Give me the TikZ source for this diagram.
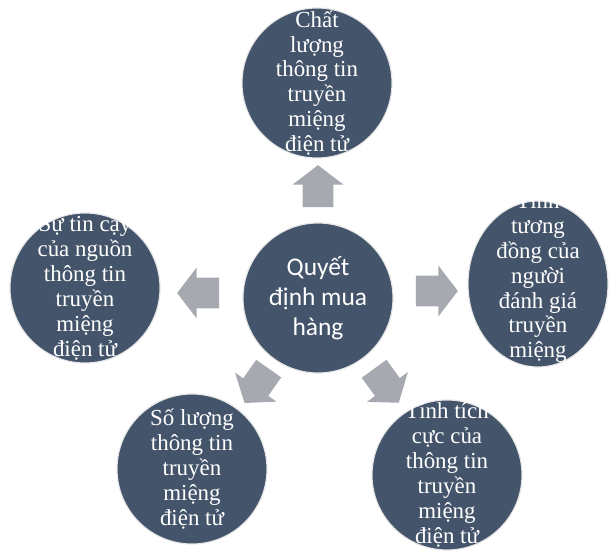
\documentclass[tikz,border=0pt]{standalone}
\usepackage{fontspec}
\setmainfont{Liberation Serif}
\newfontfamily\calibri{Carlito}
\usetikzlibrary{shapes.arrows,shapes.geometric}
\definecolor{slate}{RGB}{68,84,106}
\definecolor{arrowgray}{RGB}{166,169,175}
\tikzset{
  bubble/.style={circle, fill=slate, draw=gray!20, line width=0.8pt, minimum size=3.75cm, inner sep=0pt},
  serifcap/.style={text=white, align=center, inner sep=0pt, font=\fontsize{16.3}{17.7}\selectfont},
  sanscap/.style={text=white, align=center, inner sep=0pt, font=\calibri\fontsize{18.1}{21.3}\selectfont},
  blockarrow/.style={single arrow, fill=arrowgray, minimum height=1.05cm, inner xsep=0pt, inner ysep=0.375cm,
    single arrow head extend=0.25cm, single arrow tip angle=105},
}
\begin{document}
\begin{tikzpicture}
\useasboundingbox (0,0) rectangle (15.225,13.75);
\node[bubble, label={[sanscap]center:Quyết\\định mua\\hàng}]  at (7.95, 6.3) (qd) {};
\node[bubble, label={[serifcap]center:Chất\\lượng\\thông tin\\truyền\\miệng\\điện tử}]  at (7.925, 11.675) (cl) {};
\node[bubble, label={[serifcap]center:Sự tin cậy\\của nguồn\\thông tin\\truyền\\miệng\\điện tử}]  at (2.125, 6.55) (tc) {};
\node[bubble, ellipse, minimum width=3.5cm, minimum height=4.15cm,
  label={[serifcap, yshift=-0.14cm]center:Tính\\tương\\đồng của\\người\\đánh giá\\truyền\\miệng\\điện tử}]  at (13.45, 6.65) (td) {};
\node[bubble, label={[serifcap]center:Số lượng\\thông tin\\truyền\\miệng\\điện tử}]  at (4.8, 2.025) (sl) {};
\node[bubble, label={[serifcap]center:Tính tích\\cực của\\thông tin\\truyền\\miệng\\điện tử}]  at (11.175, 1.875) (tt) {};
\node[blockarrow, rotate=90]  at (7.95, 8.95) (up) {};
\node[blockarrow, rotate=180]  at (5.1, 6.425) (lt) {};
\node[blockarrow]  at (10.775, 6.475) (rt) {};
\node[blockarrow, rotate=235]  at (6.5, 4.225) (dl) {};
\node[blockarrow, rotate=-54]  at (9.575, 4.225) (dr) {};
\end{tikzpicture}
\end{document}
